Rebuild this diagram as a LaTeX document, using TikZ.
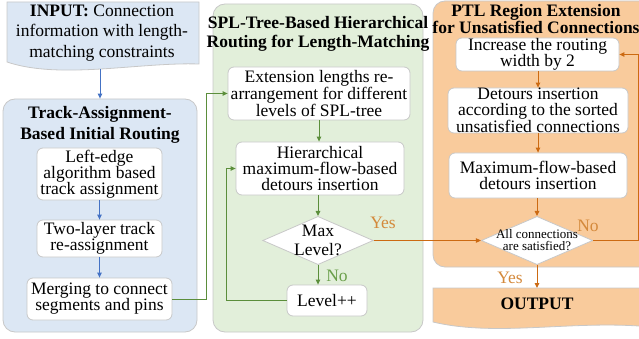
\documentclass[tikz,border=0pt]{standalone}
\usepackage{fontspec}
\setmainfont{Liberation Serif}
\usepackage{xcolor}
\usetikzlibrary{arrows.meta,shapes.geometric,positioning}
\definecolor{border}{HTML}{C8C8C8}
\definecolor{bluebg}{HTML}{DCE7F4}
\definecolor{greenbg}{HTML}{E2EFDA}
\definecolor{orangebg}{HTML}{F9CB9C}
\definecolor{blueln}{HTML}{4472C4}
\definecolor{greenln}{HTML}{5B8E3B}
\definecolor{orangeln}{HTML}{CC6A12}
\definecolor{orangelab}{HTML}{D4893B}
\definecolor{greenlab}{HTML}{6A9F4A}
\tikzset{
  panel/.style={draw=border, line width=0.8pt, rounded corners=12pt},
  stepbox/.style={draw=border, line width=0.8pt, fill=white, rounded corners=6pt, align=center, inner sep=0pt, font=\fontsize{17.5}{16}\selectfont},
  title/.style={align=center, font=\bfseries\fontsize{17.5}{19}\selectfont},
  decide/.style={diamond, draw=border, line width=0.8pt, fill=white, align=center},
  doc/.style={draw=border, line width=0.8pt},
  lab/.style={inner sep=0pt, font=\fontsize{17.5}{17.5}\selectfont},
  flow/.style={line width=1pt, -{Triangle[length=5pt,width=4.5pt]}},
}

\begin{document}
\begin{tikzpicture}[x=1pt, y=-1pt]
\useasboundingbox (0,0) rectangle (639,339);
\clip (0,0) rectangle (639,339);
% input and output documents
\draw[doc, fill=bluebg] (7,62) -- (7,2) -- (199,2) -- (199,64) .. controls (140,62) and (60,80) .. (7,62) -- cycle;
\node[lab, align=center, font=\fontsize{17.5}{20.5}\selectfont] (input) at (102,33) {\textbf{INPUT:} Connection\\information with length-\\matching constraints};
\coordinate (inbot) at (100,69);
\draw[doc, fill=orangebg] (433,322) -- (433,288) -- (660,288) -- (660,328) .. controls (580,318) and (500,338) .. (433,322) -- cycle;
\node[lab, font=\bfseries\fontsize{17.5}{17.5}\selectfont] (output) at (537,304) {OUTPUT};
\coordinate (outtop) at (537,288);
% panels
\node[panel, fill=bluebg, minimum width=194pt, minimum height=233pt] (trackpanel) at (100,215.5) {};
\node[panel, fill=greenbg, minimum width=210pt, minimum height=328pt] (splpanel) at (318,168) {};
\node[panel, fill=orangebg, minimum width=227pt, minimum height=266pt] (ptlpanel) at (546.5,134) {};
\node[title, font=\bfseries\fontsize{17.5}{20.5}\selectfont] (tracktitle) at (100,125) {Track-Assignment-\\Based Initial Routing};
\node[title] (spltitle) at (318,34) {SPL-Tree-Based Hierarchical\\Routing for Length-Matching};
\node[title, font=\bfseries\fontsize{17.5}{16.5}\selectfont] (ptltitle) at (536,19) {PTL Region Extension\\for Unsatisfied Connections};
% track assignment
\node[stepbox, minimum width=125pt, minimum height=52pt] (leftedge) at (99.5,174) {Left-edge\\algorithm based\\track assignment};
\node[stepbox, minimum width=125pt, minimum height=37pt] (twolayer) at (99.5,238.5) {Two-layer track\\re-assignment};
\node[stepbox, minimum width=145pt, minimum height=42pt] (merging) at (99.5,299) {Merging to connect\\segments and pins};
% spl-tree
\node[stepbox, minimum width=182pt, minimum height=53pt] (extlen) at (319,93.5) {Extension lengths re-\\arrangement for different\\levels of SPL-tree};
\node[stepbox, minimum width=168pt, minimum height=53pt] (hier) at (320,168.5) {Hierarchical\\maximum-flow-based\\detours insertion};
\node[decide, aspect=2.29, inner sep=-1.3pt, font=\fontsize{17.5}{19.5}\selectfont] (maxlvl) at (318,240.5) {Max\\Level?};
\node[stepbox, minimum width=80pt, minimum height=31pt] (lvlinc) at (327,300.5) {Level++};
% ptl region
\node[stepbox, minimum width=163pt, minimum height=33pt] (incwidth) at (537.5,54.5) {Increase the routing\\width by 2};
\node[stepbox, minimum width=180pt, minimum height=45pt] (detours) at (538,110.5) {Detours insertion\\according to the sorted\\unsatisfied connections};
\node[stepbox, minimum width=178pt, minimum height=45pt] (maxflow) at (538,175.5) {Maximum-flow-based\\detours insertion};
\node[decide, aspect=2.31, inner sep=-2.95pt, font=\fontsize{13}{12}\selectfont] (allsat) at (537,240.5) {All connections\\are satisfied?};
% labels
\node[lab, text=orangelab] (yesmax) at (383,223) {Yes};
\node[lab, text=greenlab] (nomax) at (337,276) {No};
\node[lab, text=orangelab] (nosat) at (588,226) {No};
\node[lab, text=orangelab] (yessat) at (510,278) {Yes};
% connectors
\draw[flow, blueln] (inbot) -- (trackpanel.north);
\draw[flow, blueln] (leftedge.south) -- (twolayer.north);
\draw[flow, blueln] (twolayer.south) -- (merging.north);
\draw[flow, greenln] (merging.east) -- ++(34,0) |- (extlen.west);
\draw[flow, greenln] (extlen.south) -- (extlen.south |- hier.north);
\draw[flow, greenln] (hier.south -| maxlvl.north) -- (maxlvl.north);
\draw[flow, greenln] (maxlvl.south) -- (maxlvl.south |- lvlinc.north);
\draw[flow, greenln] (lvlinc.west) -- ++(-60,0) |- (hier.west);
\draw[flow, orangeln] (maxlvl.east) -- (allsat.west);
\draw[flow, orangeln] (incwidth.south -| detours.north) -- (detours.north);
\draw[flow, orangeln] (detours.south) -- (maxflow.north);
\draw[flow, orangeln] (maxflow.south -| allsat.north) -- (allsat.north);
\draw[flow, orangeln] (allsat.east) -- ++(45,0) |- (incwidth.east);
\draw[flow, orangeln] (allsat.south) -- (outtop);
\end{tikzpicture}
\end{document}
